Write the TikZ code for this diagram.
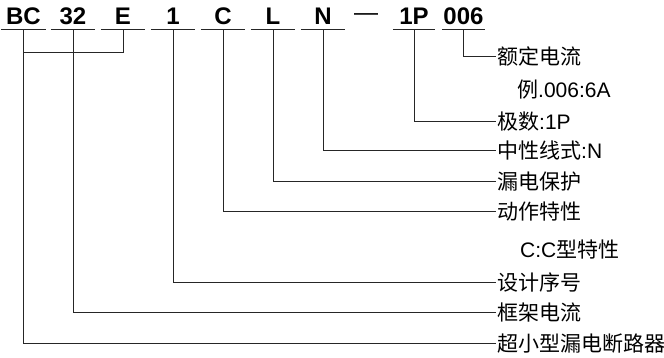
\documentclass[tikz,border=0pt]{standalone}
\usepackage{fontspec}
\setmainfont{Liberation Sans}
\newfontfamily\cjk{Noto Sans CJK SC}
\usetikzlibrary{positioning}

\begin{document}
\begin{tikzpicture}[x=1pt, y=-1pt]
  \useasboundingbox (0,0) rectangle (664,358);

  % ---- Styles ---------------------------------------------------
  \tikzstyle{code}=[anchor=base, font=\fontsize{24}{24}\selectfont\bfseries,
                    minimum width=44pt, inner xsep=0pt, inner ysep=4pt,
                    text depth=0pt]
  \tikzstyle{uline}=[line width=1.3pt, black!85]
  \tikzstyle{conn}=[line width=1pt, black!85]
  \tikzstyle{lbl}=[anchor=west, inner xsep=1.5pt, inner ysep=0pt,
                   text height=17.5pt, text depth=1.5pt,
                   font=\fontsize{21}{21}\selectfont]

  % ---- Type code (top row) -------------------------------------
  \node[code] (bc)   at (23.5,25) {BC};
  \node[code] (c32)  at (73,25)   {32};
  \node[code] (ce)   at (123,25)  {E};
  \node[code] (c1)   at (173,25)  {1};
  \node[code] (cc)   at (223,25)  {C};
  \node[code] (cl)   at (273,25)  {L};
  \node[code] (cn)   at (323,25)  {N};
  \node[inner sep=0pt, font=\fontsize{24}{24}\selectfont] (dash) at (366,17) {—};
  \node[code, minimum width=42pt] (c1p)  at (414,25)   {1P};
  \node[code, minimum width=43pt] (c006) at (463.5,25) {006};

  \foreach \n in {bc,c32,ce,c1,cc,cl,cn,c1p,c006}
    \draw[uline] (\n.south west) -- (\n.south east);

  % ---- Meaning labels (right column) ---------------------------
  \node[lbl] (rated)   at (495.5,57)  {{\cjk 额定电流}};
  \node[lbl] (ratedeg) at (515.5,90)  {{\cjk 例}.006:6A};
  \node[lbl] (poles)   at (495.5,122) {{\cjk 极数}:1P};
  \node[lbl] (neutral) at (495.5,151) {{\cjk 中性线式}:N};
  \node[lbl] (leak)    at (495.5,182) {{\cjk 漏电保护}};
  \node[lbl] (trip)    at (495.5,212) {{\cjk 动作特性}};
  \node[lbl] (tripeg)  at (518.5,250) {C:C{\cjk 型特性}};
  \node[lbl] (serial)  at (495.5,282) {{\cjk 设计序号}};
  \node[lbl] (frame)   at (495.5,312) {{\cjk 框架电流}};
  \node[lbl] (mcb)     at (495.5,343) {{\cjk 超小型漏电断路器}};

  % ---- Leader lines ---------------------------------------------
  \coordinate (join) at (23.5,53);
  \draw[conn] (ce.south)   |- (join);
  \draw[conn] (bc.south)   |- (mcb.west);
  \draw[conn] (c32.south)  |- (frame.west);
  \draw[conn] (c1.south)   |- (serial.west);
  \draw[conn] (cc.south)   |- (trip.west);
  \draw[conn] (cl.south)   |- (leak.west);
  \draw[conn] (cn.south)   |- (neutral.west);
  \draw[conn] (c1p.south)  |- (poles.west);
  \draw[conn] (c006.south) |- (rated.west);

\end{tikzpicture}
\end{document}
